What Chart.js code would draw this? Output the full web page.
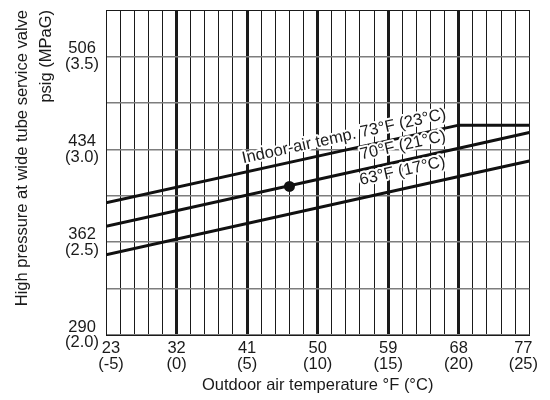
<!DOCTYPE html>
<html>
<head>
<meta charset="utf-8">
<title>High pressure chart</title>
<script src="https://cdn.jsdelivr.net/npm/chart.js@4.4.1/dist/chart.umd.min.js"></script>
<style>
  html, body { margin: 0; padding: 0; background: #fff; }
  canvas { display: block; }
</style>
</head>
<body>
<canvas id="pressure" width="550" height="400"></canvas>
<script>
// outdoor air temperature (°C) where the lines are read
const outdoorC = [-5, 20, 25];
// high pressure (MPaG) for each indoor air temperature
const pressure73F = [2.712, 3.13, 3.13];
const pressure70F = [2.585, 3.006, 3.09];
const pressure63F = [2.432, 2.853, 2.937];
const lineLabels = ['Indoor-air temp. 73°F (23°C)', '70°F (21°C)', '63°F (17°C)'];

// the marked point on the 70°F line
const pointC = [8];
const pointMPa = [2.80];

// tick labels
const tickC = [-5, 0, 5, 10, 15, 20, 25];
const tickF = [23, 32, 41, 50, 59, 68, 77];
const tickMPa = [2.0, 2.5, 3.0, 3.5];
const tickPsig = [290, 362, 434, 506];

const FONT = '"Liberation Sans", Arial, Helvetica, sans-serif';
const INK = '#1a1a1a';
const SIZE = 16.5;

Chart.defaults.font.family = FONT;
Chart.defaults.font.size = SIZE;
Chart.defaults.color = INK;

function toPoints(xs, ys) {
    return xs.map((c, i) => ({ x: c, y: ys[i] }));
}

// rotated labels sitting on top of each line, with a white halo
const lineLabelPlugin = {
    id: 'lineLabels',
    afterDatasetsDraw(chart) {
        const { ctx } = chart;
        const xs = chart.scales.x, ys = chart.scales.y;
        const endC = 19.3;
        const gaps = [9, 10, 13];
        [pressure73F, pressure70F, pressure63F].forEach((vals, i) => {
            const x0 = xs.getPixelForValue(outdoorC[0]), y0 = ys.getPixelForValue(vals[0]);
            const x1 = xs.getPixelForValue(outdoorC[1]), y1 = ys.getPixelForValue(vals[1]);
            const angle = Math.atan2(y1 - y0, x1 - x0);
            const px = xs.getPixelForValue(endC);
            const py = y0 + (y1 - y0) * (px - x0) / (x1 - x0);
            ctx.save();
            ctx.translate(px, py);
            ctx.rotate(angle);
            ctx.font = SIZE + 'px ' + FONT;
            ctx.textAlign = 'right';
            ctx.textBaseline = 'alphabetic';
            ctx.lineJoin = 'round';
            ctx.lineWidth = 4;
            ctx.strokeStyle = '#fff';
            ctx.strokeText(lineLabels[i], 0, -gaps[i]);
            ctx.fillStyle = INK;
            ctx.fillText(lineLabels[i], 0, -gaps[i]);
            ctx.restore();
        });
    }
};

// nudge the first and last x labels inward like the original
const edgeTickPlugin = {
    id: 'edgeTicks',
    beforeDraw(chart) {
        const items = chart.scales.x.getLabelItems();
        if (items._shifted) return;
        items._shifted = true;
        const shown = items.filter(it => Array.isArray(it.label));
        if (shown.length) {
            shown[0].options.translation[0] += 5;
            shown[shown.length - 1].options.translation[0] -= 6;
        }
    }
};

const lineStyle = {
    type: 'line',
    borderColor: '#111',
    borderWidth: 3,
    pointRadius: 0,
    fill: false,
    tension: 0
};

new Chart(document.getElementById('pressure').getContext('2d'), {
    type: 'line',
    data: {
        datasets: [
            { ...lineStyle, label: '73°F', data: toPoints(outdoorC, pressure73F) },
            { ...lineStyle, label: '70°F', data: toPoints(outdoorC, pressure70F) },
            { ...lineStyle, label: '63°F', data: toPoints(outdoorC, pressure63F) },
            {
                type: 'scatter',
                label: 'point',
                data: toPoints(pointC, pointMPa),
                pointRadius: 5.5,
                backgroundColor: '#111',
                borderWidth: 0
            }
        ]
    },
    options: {
        responsive: false,
        animation: false,
        layout: { padding: { top: 10, right: 18, bottom: 0, left: 0 } },
        plugins: {
            legend: { display: false },
            tooltip: { enabled: false }
        },
        scales: {
            x: {
                type: 'linear',
                min: -5,
                max: 25,
                afterFit(scale) { scale.height = 65; },
                ticks: {
                    stepSize: 1,
                    autoSkip: false,
                    maxRotation: 0,
                    padding: 6,
                    font: { size: SIZE, lineHeight: 0.95 },
                    callback: v => {
                        const k = tickC.indexOf(v);
                        return k < 0 ? '' : [String(tickF[k]), '(' + tickC[k] + ')'];
                    }
                },
                grid: {
                    drawTicks: false,
                    color: INK,
                    lineWidth: ctx => (ctx.tick && tickC.slice(1, -1).includes(ctx.tick.value) ? 3 : 1)
                },
                border: { color: INK, width: 1 },
                title: {
                    display: true,
                    text: 'Outdoor air temperature °F (°C)',
                    font: { size: SIZE },
                    padding: { top: 0, bottom: 5 }
                }
            },
            y: {
                type: 'linear',
                min: 2.0,
                max: 3.75,
                afterFit(scale) {
                    scale.width = 106;
                    // let the plot start right at the top padding
                    scale.paddingTop = 0;
                    scale.paddingBottom = 0;
                },
                ticks: {
                    stepSize: 0.25,
                    padding: 7,
                    crossAlign: 'center',
                    font: { size: SIZE, lineHeight: 0.95 },
                    callback: v => {
                        const k = tickMPa.indexOf(v);
                        return k < 0 ? '' : [String(tickPsig[k]), '(' + tickMPa[k].toFixed(1) + ')'];
                    }
                },
                grid: {
                    drawTicks: false,
                    color: ctx => (ctx.tick && ctx.tick.value === 3.75 ? INK : '#7d7d7d'),
                    lineWidth: ctx => (ctx.tick && ctx.tick.value === 3.75 ? 1 : 1.5)
                },
                border: { color: INK, width: 1 },
                title: {
                    display: true,
                    text: ['High pressure at wide tube service valve', 'psig (MPaG)'],
                    align: 'end',
                    font: { size: SIZE, lineHeight: 1.48 },
                    padding: { top: 10, bottom: 0 }
                }
            }
        }
    },
    plugins: [lineLabelPlugin, edgeTickPlugin]
});
</script>
</body>
</html>
